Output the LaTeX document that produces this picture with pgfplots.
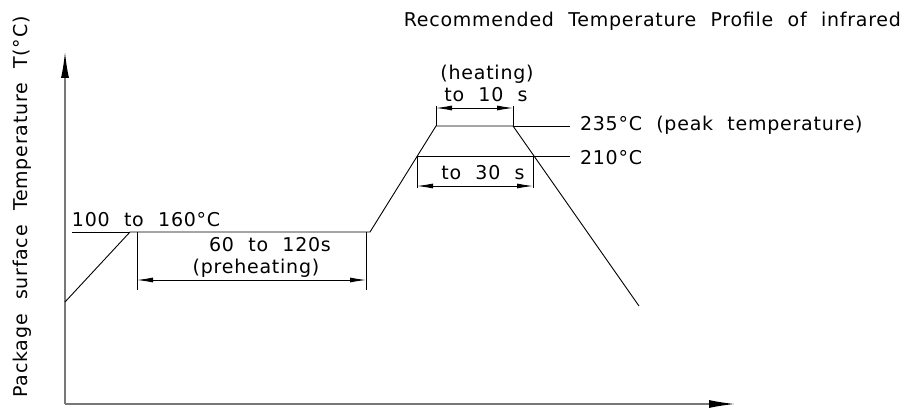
\documentclass[border=0pt]{standalone}
\usepackage{pgfplots}
\pgfplotsset{compat=1.18}
\usepackage{fontspec}
\setmainfont{DejaVu Sans}[WordSpace=2.1, LetterSpace=4]
\usetikzlibrary{arrows.meta}
\definecolor{axgray}{RGB}{120,120,120}
\newcommand{\lf}{\fontsize{19}{22}\selectfont}
\tikzset{
  dim/.style={black, line width=0.8pt},
  darr/.style={black, line width=0.8pt, {Latex[length=16pt,width=5pt]}-{Latex[length=16pt,width=5pt]}},
  lab/.style={font=\lf, inner sep=0pt, outer sep=0pt},
}
\begin{document}
\begin{tikzpicture}[x=1pt,y=1pt]
\begin{axis}[
  at={(65pt,5pt)}, anchor=origin,
  width=670pt, height=352pt, scale only axis,
  xmin=65, xmax=735, ymin=5, ymax=357,
  axis lines=left, ticks=none,
  axis line style={axgray, line width=1.3pt, -{Latex[length=26pt,width=8pt,color=black]}},
  clip=false,
]
\path (axis cs:0,0) rectangle (axis cs:903,409);
% profile
\addplot[black, line width=0.9pt] coordinates {
 (65,107) (130,177) (370,177) (436,283) (513,283) (639,103)};
% reference lines
\draw[dim] (axis cs:72,177) -- (axis cs:130,177);
\draw[dim] (axis cs:513,283) -- (axis cs:570,283);
\draw[dim] (axis cs:417,253) -- (axis cs:570,253);
% preheating dimension
\draw[dim] (axis cs:137,177) -- (axis cs:137,119);
\draw[dim] (axis cs:366,177) -- (axis cs:366,119);
\draw[darr] (axis cs:137,129) -- (axis cs:366,129);
% 30 s dimension
\draw[dim] (axis cs:417,253) -- (axis cs:417,221);
\draw[dim] (axis cs:533,253) -- (axis cs:533,221);
\draw[darr] (axis cs:417,223) -- (axis cs:533,223);
% 10 s dimension
\draw[dim] (axis cs:436,283) -- (axis cs:436,303);
\draw[dim] (axis cs:513,283) -- (axis cs:513,303);
\draw[darr] (axis cs:436,301) -- (axis cs:513,301);
% texts
\node[lab, anchor=base east] at (axis cs:901,382) {Recommended Temperature Profile of infrared};
\node[lab, rotate=90, anchor=base] at (axis cs:28,202) {Package surface Temperature T(°C)};
\node[lab, anchor=base west] at (axis cs:72,182) {100 to 160°C};
\node[lab, anchor=base] at (axis cs:270,157) {60 to 120s};
\node[lab, anchor=base] at (axis cs:256,135) {(preheating)};
\node[lab, anchor=base] at (axis cs:487,329) {(heating)};
\node[lab, anchor=base] at (axis cs:486,307) {to 10 s};
\node[lab, anchor=base west] at (axis cs:580,278) {235°C (peak temperature)};
\node[lab, anchor=base west] at (axis cs:580,244) {210°C};
\node[lab, anchor=base] at (axis cs:483,229) {to 30 s};
\end{axis}
\end{tikzpicture}
\end{document}
